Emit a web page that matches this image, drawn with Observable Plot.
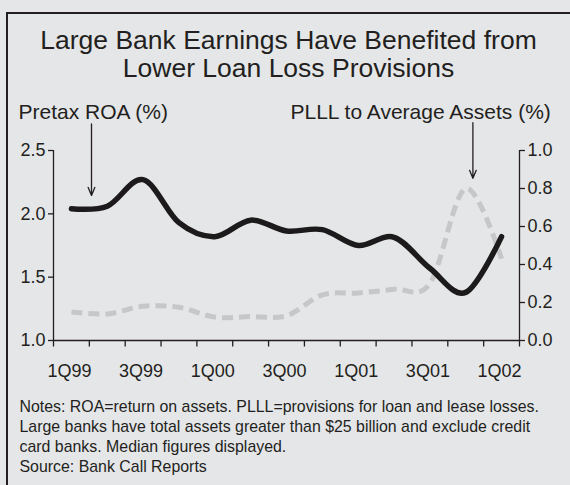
<!DOCTYPE html>
<html>
<head>
<meta charset="utf-8">
<script src="https://cdn.jsdelivr.net/npm/d3@7"></script>
<script src="https://cdn.jsdelivr.net/npm/@observablehq/plot@0.6"></script>
<style>
  html, body { margin: 0; padding: 0; background: #e5e6e8; }
  #wrap { position: relative; width: 570px; height: 485px; overflow: hidden; background: #e5e6e8;
          font-family: "Liberation Sans", Arial, Helvetica, sans-serif; color: #231f20; }
  #frame { position: absolute; left: 6px; top: 12px; width: 700px; height: 600px; box-sizing: border-box;
           border-left: 2.3px solid #231f20; border-top: 2px solid #231f20; }
  #chart { position: absolute; left: 0; top: 0; }
  .title { position: absolute; left: 7px; width: 563px; top: 26px; text-align: center;
           font-size: 26.5px; line-height: 28px; white-space: nowrap; }
  .lab { position: absolute; font-size: 21px; line-height: 21px; top: 100.5px; white-space: nowrap; }
  .notes { position: absolute; left: 19.5px; top: 397px; font-size: 15.9px; line-height: 20px; white-space: nowrap; }
</style>
</head>
<body>
<div id="wrap">
  <div id="frame"></div>
  <div id="chart"></div>
  <div class="title">Large Bank Earnings Have Benefited from<br>Lower Loan Loss Provisions</div>
  <div class="lab" style="left:18.5px">Pretax ROA (%)</div>
  <div class="lab" style="left:290.5px">PLLL to Average Assets (%)</div>
  <div class="notes">Notes: ROA=return on assets. PLLL=provisions for loan and lease losses.<br>Large banks have total assets greater than $25 billion and exclude credit<br>card banks. Median figures displayed.<br>Source: Bank Call Reports</div>
</div>
<script>
// ---- data ----
const quarters = ["1Q99","2Q99","3Q99","4Q99","1Q00","2Q00","3Q00","4Q00","1Q01","2Q01","3Q01","4Q01","1Q02"];
const pretaxROA = [2.04, 2.06, 2.27, 1.93, 1.82, 1.95, 1.865, 1.875, 1.75, 1.815, 1.57, 1.38, 1.82];
const plllToAssets = [0.15, 0.14, 0.18, 0.175, 0.123, 0.126, 0.13, 0.24, 0.25, 0.27, 0.30, 0.80, 0.43];
const leftTicks = [1.0, 1.5, 2.0, 2.5];
const rightTicks = [0.0, 0.2, 0.4, 0.6, 0.8, 1.0];
const leftDomain = [1.0, 2.5];
const rightDomain = [0.0, 1.0];
// annotation arrows (x in quarter index units, y in left-axis units)
const arrowX  = [0.56, 11.2];
const arrowY1 = [2.71, 2.72];
const arrowY2 = [2.145, 2.28];

// ---- helpers ----
const N = quarters.length;
const idx = d3.range(N);
const toLeft = r => leftDomain[0] + (r - rightDomain[0]) / (rightDomain[1] - rightDomain[0]) * (leftDomain[1] - leftDomain[0]);
const fromLeft = v => rightDomain[0] + (v - leftDomain[0]) / (leftDomain[1] - leftDomain[0]) * (rightDomain[1] - rightDomain[0]);
const xDomain = [-0.5, N - 0.5];
const ink = "#231f20";

const arrows = arrowX.map((x, i) => ({x, y1: arrowY1[i], y2: arrowY2[i]}));

const chart = Plot.plot({
  width: 570,
  height: 390,
  marginTop: 150,
  marginBottom: 50,
  marginLeft: 53,
  marginRight: 51,
  style: {background: "transparent", fontFamily: "'Liberation Sans', Arial, Helvetica, sans-serif", fontSize: "18px", color: ink, overflow: "visible"},
  x: {type: "linear", domain: xDomain},
  y: {domain: leftDomain},
  marks: [
    Plot.axisY({anchor: "left", ticks: leftTicks, tickFormat: d => d.toFixed(1), tickSize: 5, tickPadding: 3, fontSize: 18, strokeWidth: 1.3, label: null}),
    Plot.axisY({anchor: "right", ticks: rightTicks.map(toLeft), tickFormat: d => Math.abs(fromLeft(d)).toFixed(1), tickSize: 5, tickPadding: 3, fontSize: 18, strokeWidth: 1.3, label: null}),
    Plot.axisX({ticks: d3.range(N + 1).map(i => i - 0.5), tickFormat: () => "", tickSize: 6.5, strokeWidth: 1.3, label: null}),
    Plot.axisX({ticks: idx.filter(i => i % 2 === 0), tickFormat: i => quarters[i], tickSize: 0, tickPadding: 24, fontSize: 18, dx: -2, label: null}),
    Plot.ruleX(xDomain, {y1: leftDomain[0], y2: leftDomain[1], stroke: ink, strokeWidth: 1.3}),
    Plot.ruleY([leftDomain[0]], {stroke: ink, strokeWidth: 1.3}),
    Plot.line(idx, {x: i => i, y: i => toLeft(plllToAssets[i]), curve: "cardinal", stroke: "#c6c7c9", strokeWidth: 5, strokeDasharray: "11,6", strokeLinecap: "butt"}),
    Plot.line(idx, {x: i => i, y: i => pretaxROA[i], curve: "cardinal", stroke: "#1c1a1b", strokeWidth: 5.5}),
    Plot.arrow(arrows, {x1: "x", x2: "x", y1: "y1", y2: "y2", stroke: ink, strokeWidth: 1.3, headLength: 10, headAngle: 45})
  ]
});
document.getElementById("chart").appendChild(chart);
</script>
</body>
</html>
